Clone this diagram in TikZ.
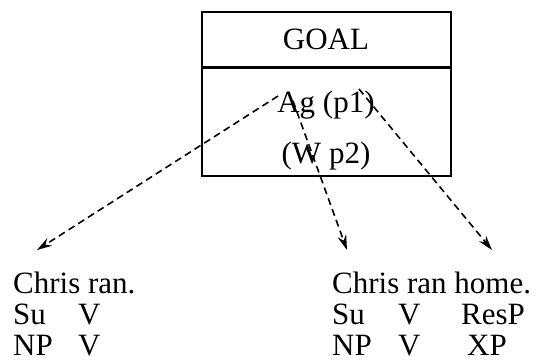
\documentclass[tikz,border=0pt]{standalone}
\usepackage{fontspec}
\setmainfont{Liberation Serif}
\usetikzlibrary{arrows.meta}
\begin{document}
\begin{tikzpicture}[x=1pt,y=-1pt,
  txt/.style={inner sep=0pt,anchor=base,font=\fontsize{31}{31}\selectfont},
  ltxt/.style={txt,anchor=base west,text depth=0pt},
  link/.style={line width=1.6pt,dash pattern=on 7pt off 4.5pt,
    -{Stealth[length=15pt,width=9pt,inset=5pt]}}]
\useasboundingbox (0,0) rectangle (539,360);

% the GOAL frame
\node[draw,line width=2pt,minimum width=249pt,minimum height=164pt,inner sep=0pt]
  (goalbox) at (326.5,94) {};
\coordinate (divl) at (202,67.5);
\coordinate (divr) at (451,67.5);
\draw[line width=3.5pt] (divl) -- (divr);

\node[txt] (goal) at (326,49) {GOAL};
\node[txt] (ag) at (326,112) {Ag (p1)};
\node[txt] (wp) at (326,163) {(W p2)};

% left example
\node[ltxt] (s1) at (13,293.5) {Chris ran.};
\node[ltxt] (su1) at (13,324.5) {Su};
\node[ltxt] (v1) at (78,324.5) {V};
\node[ltxt] (np1) at (13,355) {NP};
\node[ltxt] (vv1) at (78,355) {V};

% right example
\node[ltxt] (s2) at (332,293.5) {Chris ran home.};
\node[ltxt] (su2) at (332,324.5) {Su};
\node[ltxt] (v2) at (398,324.5) {V};
\node[ltxt] (res2) at (461,324.5) {ResP};
\node[ltxt] (np2) at (332,355) {NP};
\node[ltxt] (vv2) at (398,355) {V};
\node[ltxt] (xp2) at (467,355) {XP};

% arrows from the role slots
\coordinate (agA) at (278,96);
\coordinate (agG) at (293,101);
\coordinate (agP) at (359,89);
\coordinate (t1) at (37,250);
\coordinate (t2) at (347,250);
\coordinate (t3) at (492,250);
\draw[link] (agA) -- (t1);
\draw[link] (agG) -- (t2);
\draw[link] (agP) -- (t3);
\end{tikzpicture}
\end{document}
